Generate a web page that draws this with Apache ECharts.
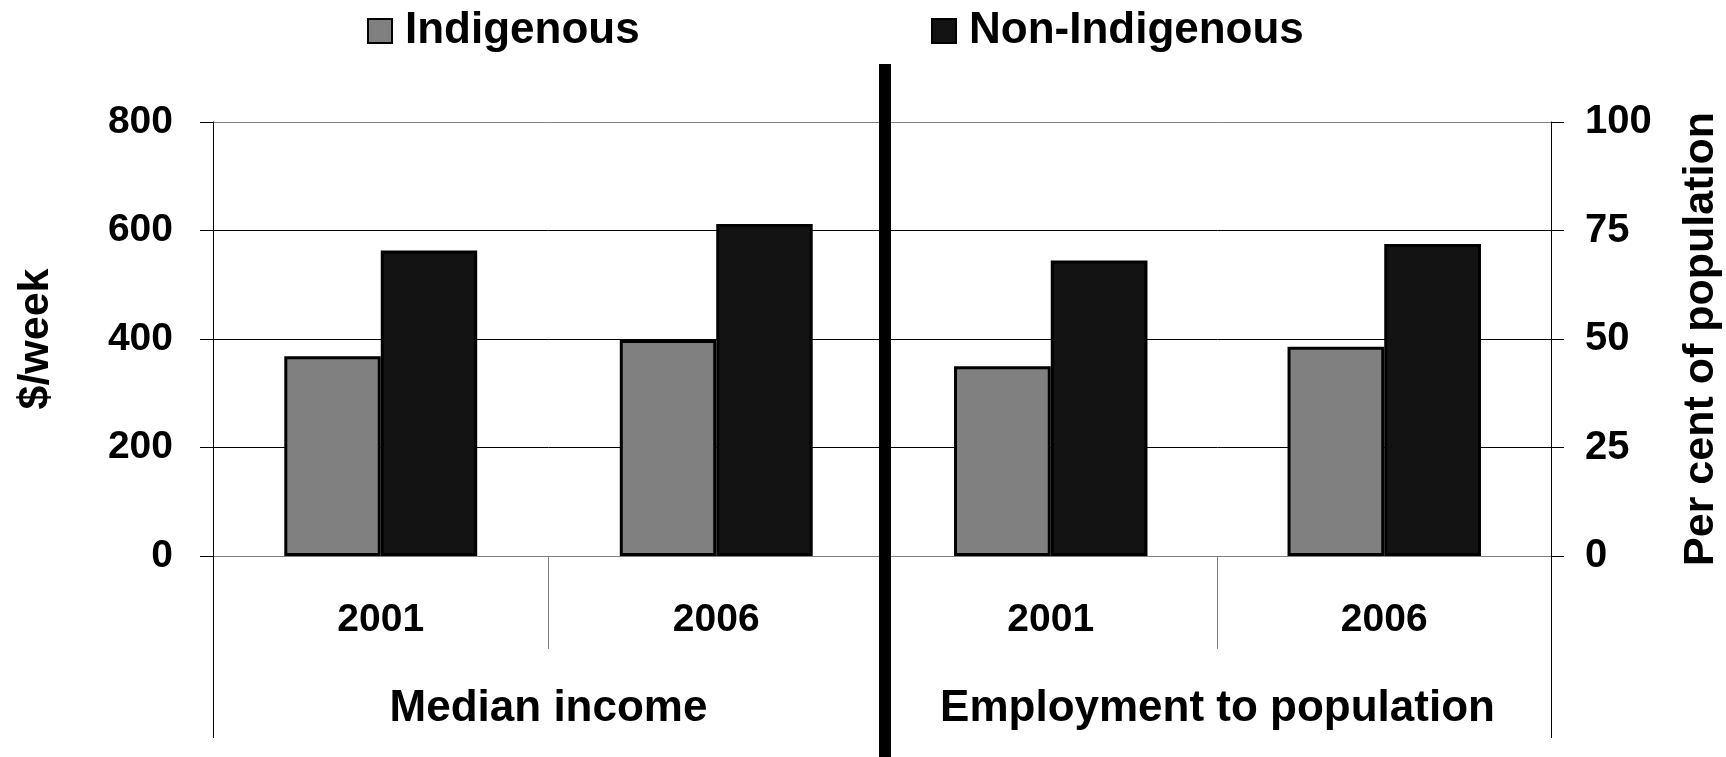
<!DOCTYPE html>
<html>
<head>
<meta charset="utf-8">
<script src="https://cdn.jsdelivr.net/npm/echarts@6/dist/echarts.min.js"></script>
<style>
html,body{margin:0;padding:0;background:#fff;}
#chart{width:1726px;height:757px;}
</style>
</head>
<body>
<div id="chart"></div>
<script>
var years = ['2001', '2006'];
var leftGroup = ['Median income'];
var rightGroup = ['Employment to population'];
var incomeIndigenous = [368, 398];
var incomeNonIndigenous = [563, 612];
var employIndigenous = [43.7, 48.2];
var employNonIndigenous = [68.1, 71.9];
var leftTicks = [0, 800, 200];
var rightTicks = [0, 100, 25];

var FONT = "'Liberation Sans', Arial, sans-serif";
var chart = echarts.init(document.getElementById('chart'));

function yearAxis(grid) {
  return {
    type: 'category', gridIndex: grid, data: years, position: 'bottom',
    axisLine: { show: true, lineStyle: { color: '#808080', width: 1 } },
    axisTick: { show: true, interval: 0, length: 93, alignWithLabel: false, lineStyle: { color: '#808080', width: 1 } },
    axisLabel: { interval: 0, margin: 45, color: '#000', fontFamily: FONT, fontWeight: 'bold', fontSize: 39 },
    splitLine: { show: false }
  };
}
function groupAxis(grid, data) {
  return {
    type: 'category', gridIndex: grid, data: data, position: 'bottom',
    axisLine: { show: false },
    axisTick: { show: true, interval: 0, length: 182, alignWithLabel: false, lineStyle: { color: '#000', width: 1 } },
    axisLabel: { interval: 0, margin: 131, color: '#000', fontFamily: FONT, fontWeight: 'bold', fontSize: 44 },
    splitLine: { show: false }
  };
}
var splitColors = ['#808080', '#000', '#000', '#000', '#808080'];

var option = {
  animation: false,
  backgroundColor: '#fff',
  legend: [
    { data: ['Indigenous'], left: 367, top: 9, padding: 0, icon: 'rect', itemWidth: 24, itemHeight: 24, itemGap: 0,
      textStyle: { color: '#000', fontFamily: FONT, fontWeight: 'bold', fontSize: 44, padding: [0, 0, 0, 8] } },
    { data: ['Non-Indigenous'], left: 931, top: 9, padding: 0, icon: 'rect', itemWidth: 24, itemHeight: 24, itemGap: 0,
      textStyle: { color: '#000', fontFamily: FONT, fontWeight: 'bold', fontSize: 44, padding: [0, 0, 0, 8] } }
  ],
  grid: [
    { left: 213, top: 122, width: 671, bottom: 201, containLabel: false },
    { left: 884, top: 122, right: 175, bottom: 201, containLabel: false }
  ],
  xAxis: [
    yearAxis(0),
    groupAxis(0, leftGroup),
    yearAxis(1),
    groupAxis(1, rightGroup)
  ],
  yAxis: [
    { type: 'value', gridIndex: 0, position: 'left', min: leftTicks[0], max: leftTicks[1], interval: leftTicks[2],
      name: '$/week', nameLocation: 'middle', nameRotate: 90, nameGap: 155,
      nameTextStyle: { color: '#000', fontFamily: FONT, fontWeight: 'bold', fontSize: 43 },
      axisLine: { show: true, lineStyle: { color: '#000', width: 1 } },
      axisTick: { show: true, length: 13, lineStyle: { color: '#000', width: 1 } },
      axisLabel: { margin: 40, color: '#000', fontFamily: FONT, fontWeight: 'bold', fontSize: 39 },
      splitLine: { show: true, lineStyle: { color: splitColors, width: 1 } } },
    { type: 'value', gridIndex: 1, position: 'right', min: rightTicks[0], max: rightTicks[1], interval: rightTicks[2],
      name: 'Per cent of population', nameLocation: 'middle', nameRotate: 90, nameGap: 129,
      nameTextStyle: { color: '#000', fontFamily: FONT, fontWeight: 'bold', fontSize: 43 },
      axisLine: { show: true, lineStyle: { color: '#000', width: 1 } },
      axisTick: { show: true, length: 13, lineStyle: { color: '#000', width: 1 } },
      axisLabel: { margin: 34, color: '#000', fontFamily: FONT, fontWeight: 'bold', fontSize: 40 },
      splitLine: { show: true, lineStyle: { color: splitColors, width: 1 } } }
  ],
  series: [
    { name: 'Indigenous', type: 'bar', xAxisIndex: 0, yAxisIndex: 0, data: incomeIndigenous,
      barGap: '0%', barCategoryGap: '42.5%',
      itemStyle: { color: '#808080', borderColor: '#000', borderWidth: 3 } },
    { name: 'Non-Indigenous', type: 'bar', xAxisIndex: 0, yAxisIndex: 0, data: incomeNonIndigenous,
      barGap: '0%', barCategoryGap: '42.5%',
      itemStyle: { color: '#131313', borderColor: '#000', borderWidth: 3 } },
    { name: 'Indigenous', type: 'bar', xAxisIndex: 2, yAxisIndex: 1, data: employIndigenous,
      barGap: '0%', barCategoryGap: '42%',
      itemStyle: { color: '#808080', borderColor: '#000', borderWidth: 3 } },
    { name: 'Non-Indigenous', type: 'bar', xAxisIndex: 2, yAxisIndex: 1, data: employNonIndigenous,
      barGap: '0%', barCategoryGap: '42%',
      itemStyle: { color: '#131313', borderColor: '#000', borderWidth: 3 } }
  ],
  graphic: [
    { type: 'rect', z: 100, shape: { x: 879, y: 64, width: 12, height: 700 }, style: { fill: '#000' } }
  ]
};
chart.setOption(option);
</script>
</body>
</html>
